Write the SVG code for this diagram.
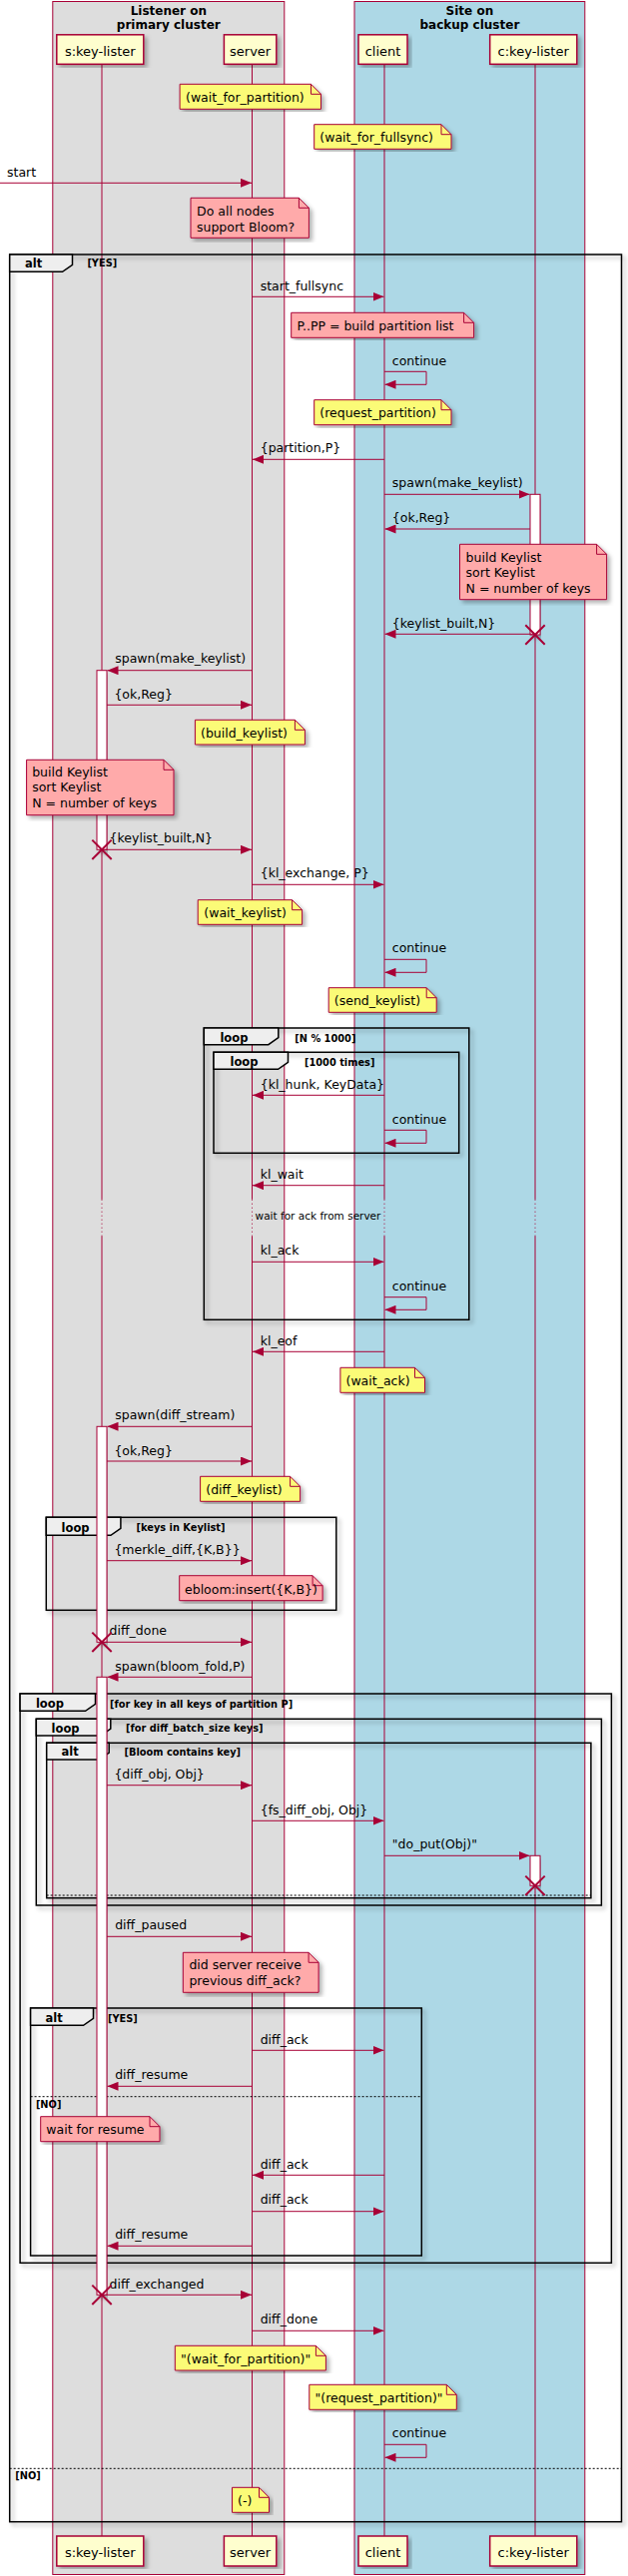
<svg xmlns="http://www.w3.org/2000/svg" width="629" height="2581" viewBox="0 0 629 2581">
<style>
text{font-family:"DejaVu Sans",sans-serif;fill:#000}
.m{font-size:12.5px}
.pt{font-size:13px;text-anchor:middle}
.bt{font-size:12px;font-weight:bold;text-anchor:middle}
.ft{font-size:11.5px;font-weight:bold}
.gd{font-size:9.8px;font-weight:bold}
.dl{font-size:10.5px;text-anchor:middle}
.ll{stroke:#A80036;stroke-width:1;fill:none}
.dot{stroke:#A80036;stroke-width:1;stroke-dasharray:1,3;fill:none}
.ar{stroke:#A80036;stroke-width:1;fill:none;marker-end:url(#ah)}
.pb{fill:#FEFECE;stroke:#A80036;stroke-width:1.5;filter:url(#sh)}
.ny{fill:#FBFB77;stroke:#A80036;stroke-width:1;filter:url(#sh)}
.np{fill:#FFAAAA;stroke:#A80036;stroke-width:1;filter:url(#sh)}
.fd{fill:none;stroke:#A80036;stroke-width:1}
.fr{fill:none;stroke:#000;stroke-width:1.5;filter:url(#sh)}
.tb{fill:#EEEEEE;stroke:#000;stroke-width:1.5}
.sep{stroke:#000;stroke-width:1;stroke-dasharray:2,2}
.ac{fill:#FFFFFF;stroke:#A80036;stroke-width:1;filter:url(#sh)}
.x{stroke:#A80036;stroke-width:2}
</style>
<defs>
<filter id="sh" x="-5%" y="-5%" width="115%" height="115%"><feDropShadow dx="3" dy="3" stdDeviation="2" flood-color="#000" flood-opacity="0.3"/></filter>
<marker id="ah" markerWidth="11" markerHeight="9" refX="11" refY="4.5" orient="auto" markerUnits="userSpaceOnUse"><path d="M0,0 L11,4.5 L0,9 Z" fill="#A80036"/></marker>
</defs>
<rect width="629" height="2581" fill="#FFFFFF"/>
<g id="box_primary">
<rect x="52.8" y="1.5" width="232" height="2578" fill="#DDDDDD" stroke="#A80036" stroke-width="1"/>
<text class="bt" x="168.8" y="14.5">Listener on</text>
<text class="bt" x="168.8" y="29">primary cluster</text>
</g>
<g id="box_backup">
<rect x="355" y="1.5" width="230.8" height="2578" fill="#ADD8E6" stroke="#A80036" stroke-width="1"/>
<text class="bt" x="470.4" y="14.5">Site on</text>
<text class="bt" x="470.4" y="29">backup cluster</text>
</g>
<g id="lifelines">
<path class="ll" d="M102,64.3 V1201.7 M102,1238.3 V2541 M252.5,64.3 V1201.7 M252.5,1238.3 V2541 M385,64.3 V1201.7 M385,1238.3 V2541 M536,64.3 V1201.7 M536,1238.3 V2541"/>
<path class="dot" d="M102,1201.7 V1238.3 M252.5,1201.7 V1238.3 M385,1201.7 V1238.3 M536,1201.7 V1238.3"/>
<text class="dl" x="318.5" y="1222.3">wait for ack from server</text>
</g>
<g id="p_skl_top"><rect class="pb" x="56.8" y="34.8" width="87" height="29.5"/><text class="pt" x="100.3" y="55.5">s:key-lister</text></g>
<g id="p_server_top"><rect class="pb" x="224.4" y="34.8" width="52.4" height="29.5"/><text class="pt" x="250.6" y="55.5">server</text></g>
<g id="p_client_top"><rect class="pb" x="359" y="34.8" width="49" height="29.5"/><text class="pt" x="383.5" y="55.5">client</text></g>
<g id="p_ckl_top"><rect class="pb" x="490.7" y="34.8" width="87.1" height="29.5"/><text class="pt" x="534.2" y="55.5">c:key-lister</text></g>
<g id="p_skl_bottom"><rect class="pb" x="56.8" y="2541" width="87" height="30"/><text class="pt" x="100.3" y="2561.5">s:key-lister</text></g>
<g id="p_server_bottom"><rect class="pb" x="224.4" y="2541" width="52.4" height="30"/><text class="pt" x="250.6" y="2561.5">server</text></g>
<g id="p_client_bottom"><rect class="pb" x="359" y="2541" width="49" height="30"/><text class="pt" x="383.5" y="2561.5">client</text></g>
<g id="p_ckl_bottom"><rect class="pb" x="490.7" y="2541" width="87.1" height="30"/><text class="pt" x="534.2" y="2561.5">c:key-lister</text></g>
<g id="frames">
<g id="f_alt_outer"><rect class="fr" x="9.7" y="255" width="612.8" height="2271.7"/><path class="tb" d="M9.7,255 H72.5 V265.3 L62.5,272.3 H9.7 Z"/><text class="ft" x="25" y="268">alt</text><text class="gd" x="87.4" y="267">[YES]</text><line class="sep" x1="9.7" y1="2473.3" x2="622.5" y2="2473.3"/><text class="gd" x="15.3" y="2484">[NO]</text></g>
<g id="f_loop_n"><rect class="fr" x="204.3" y="1030" width="265.5" height="292.3"/><path class="tb" d="M204.3,1030 H278.8 V1039.7 L268.8,1046.7 H204.3 Z"/><text class="ft" x="220.4" y="1043.5">loop</text><text class="gd" x="295.3" y="1043.5">[N % 1000]</text></g>
<g id="f_loop_1000"><rect class="fr" x="214" y="1054.3" width="245.7" height="101"/><path class="tb" d="M214,1054.3 H288.5 V1064.3 L278.5,1071.3 H214 Z"/><text class="ft" x="230.5" y="1067.8">loop</text><text class="gd" x="305" y="1067.5">[1000 times]</text></g>
<g id="f_loop_keys"><rect class="fr" x="46.3" y="1520.3" width="290.5" height="93"/><path class="tb" d="M46.3,1520.3 H120.9 V1531.3 L110.9,1538.3 H46.3 Z"/><text class="ft" x="61.6" y="1534.5">loop</text><text class="gd" x="136.6" y="1534">[keys in Keylist]</text></g>
<g id="f_loop_part"><rect class="fr" x="20.1" y="1697" width="592.3" height="570.3"/><path class="tb" d="M20.1,1697 H95.5 V1707.3 L85.5,1714.3 H20.1 Z"/><text class="ft" x="35.9" y="1711">loop</text><text class="gd" x="110" y="1710.5">[for key in all keys of partition P]</text></g>
<g id="f_loop_batch"><rect class="fr" x="36.3" y="1722.3" width="566.1" height="186.7"/><path class="tb" d="M36.3,1722.3 H110.8 V1732 L100.8,1739 H36.3 Z"/><text class="ft" x="51.6" y="1735.5">loop</text><text class="gd" x="126.1" y="1735">[for diff_batch_size keys]</text></g>
<g id="f_alt_bloom"><rect class="fr" x="46.7" y="1746.3" width="545.2" height="155.4"/><path class="tb" d="M46.7,1746.3 H109.2 V1756 L99.2,1763 H46.7 Z"/><text class="ft" x="61.6" y="1759">alt</text><text class="gd" x="124.5" y="1758.5">[Bloom contains key]</text><line class="sep" x1="46.7" y1="1899" x2="591.9" y2="1899"/></g>
<g id="f_alt_ack"><rect class="fr" x="30.6" y="2012" width="391.7" height="248"/><path class="tb" d="M30.6,2012 H93.5 V2022.3 L83.5,2029.3 H30.6 Z"/><text class="ft" x="45.5" y="2026">alt</text><text class="gd" x="108" y="2025.5">[YES]</text><line class="sep" x1="30.6" y1="2100.7" x2="422.3" y2="2100.7"/><text class="gd" x="35.9" y="2112">[NO]</text></g>
</g>
<g id="activations">
<rect class="ac" x="531" y="495.3" width="10" height="140.7"/>
<rect class="ac" x="97" y="671.7" width="10" height="179.6"/>
<rect class="ac" x="97" y="1429.3" width="10" height="216"/>
<rect class="ac" x="97" y="1680.3" width="10" height="619"/>
<rect class="ac" x="531" y="1859.3" width="10" height="30"/>
</g>
<g id="notes">
<g id="n1"><path class="ny" d="M180.1,84.3 H311.5 L321.5,94.3 V109.3 H180.1 Z"/><path class="fd" d="M311.5,84.3 V94.3 H321.5"/><text class="m" x="186" y="101.7">(wait_for_partition)</text></g>
<g id="n2"><path class="ny" d="M314.7,124.7 H442 L452,134.7 V149.3 H314.7 Z"/><path class="fd" d="M442,124.7 V134.7 H452"/><text class="m" x="320.3" y="142">(wait_for_fullsync)</text></g>
<g id="n3"><path class="np" d="M191,198.3 H299.4 L309.4,208.3 V238.3 H191 Z"/><path class="fd" d="M299.4,198.3 V208.3 H309.4"/><text class="m" x="197" y="215.5">Do all nodes</text><text class="m" x="197" y="231.5">support Bloom?</text></g>
<g id="n4"><path class="np" d="M291.7,313.3 H464.6 L474.6,323.3 V338.3 H291.7 Z"/><path class="fd" d="M464.6,313.3 V323.3 H474.6"/><text class="m" x="297.4" y="330.5">P..PP = build partition list</text></g>
<g id="n5"><path class="ny" d="M314.7,400.7 H442 L452,410.7 V425.7 H314.7 Z"/><path class="fd" d="M442,400.7 V410.7 H452"/><text class="m" x="320.3" y="418.3">(request_partition)</text></g>
<g id="n6"><path class="np" d="M460.5,545.3 H597.6 L607.6,555.3 V600.7 H460.5 Z"/><path class="fd" d="M597.6,545.3 V555.3 H607.6"/><text class="m" x="466.6" y="562.7">build Keylist</text><text class="m" x="466.6" y="578.3">sort Keylist</text><text class="m" x="466.6" y="594.3">N = number of keys</text></g>
<g id="n7"><path class="ny" d="M195.4,721.3 H295.4 L305.4,731.3 V746 H195.4 Z"/><path class="fd" d="M295.4,721.3 V731.3 H305.4"/><text class="m" x="201" y="739">(build_keylist)</text></g>
<g id="n8"><path class="np" d="M26.6,761.3 H164 L174,771.3 V816.7 H26.6 Z"/><path class="fd" d="M164,761.3 V771.3 H174"/><text class="m" x="32.2" y="777.7">build Keylist</text><text class="m" x="32.2" y="793.3">sort Keylist</text><text class="m" x="32.2" y="809.3">N = number of keys</text></g>
<g id="n9"><path class="ny" d="M198.2,901.7 H292.6 L302.6,911.7 V926.3 H198.2 Z"/><path class="fd" d="M292.6,901.7 V911.7 H302.6"/><text class="m" x="204.3" y="919.3">(wait_keylist)</text></g>
<g id="n10"><path class="ny" d="M329.2,989.7 H427.2 L437.2,999.7 V1014.3 H329.2 Z"/><path class="fd" d="M427.2,989.7 V999.7 H437.2"/><text class="m" x="334.8" y="1006.7">(send_keylist)</text></g>
<g id="n11"><path class="ny" d="M340.9,1370.3 H415.5 L425.5,1380.3 V1395.3 H340.9 Z"/><path class="fd" d="M415.5,1370.3 V1380.3 H425.5"/><text class="m" x="346.5" y="1388.3">(wait_ack)</text></g>
<g id="n12"><path class="ny" d="M200.6,1479.3 H290.6 L300.6,1489.3 V1504.3 H200.6 Z"/><path class="fd" d="M290.6,1479.3 V1489.3 H300.6"/><text class="m" x="206.3" y="1496.7">(diff_keylist)</text></g>
<g id="n13"><path class="np" d="M179.7,1578.7 H313.1 L323.1,1588.7 V1603.7 H179.7 Z"/><path class="fd" d="M313.1,1578.7 V1588.7 H323.1"/><text class="m" x="185" y="1596.7">ebloom:insert({K,B})</text></g>
<g id="n14"><path class="np" d="M183.3,1956.3 H309.1 L319.1,1966.3 V1996.3 H183.3 Z"/><path class="fd" d="M309.1,1956.3 V1966.3 H319.1"/><text class="m" x="189.4" y="1973.3">did server receive</text><text class="m" x="189.4" y="1988.8">previous diff_ack?</text></g>
<g id="n15"><path class="np" d="M40.7,2120.7 H150 L160,2130.7 V2145.7 H40.7 Z"/><path class="fd" d="M150,2120.7 V2130.7 H160"/><text class="m" x="46.3" y="2138.3">wait for resume</text></g>
<g id="n16"><path class="ny" d="M175.3,2350.3 H316.4 L326.4,2360.3 V2375 H175.3 Z"/><path class="fd" d="M316.4,2350.3 V2360.3 H326.4"/><text class="m" x="181" y="2368">"(wait_for_partition)"</text></g>
<g id="n17"><path class="ny" d="M309.8,2389.3 H447.3 L457.3,2399.3 V2414.3 H309.8 Z"/><path class="fd" d="M447.3,2389.3 V2399.3 H457.3"/><text class="m" x="315.5" y="2407.3">"(request_partition)"</text></g>
<g id="n18"><path class="ny" d="M232.5,2492.3 H259.5 L269.5,2502.3 V2517.3 H232.5 Z"/><path class="fd" d="M259.5,2492.3 V2502.3 H269.5"/><text class="m" x="238" y="2510">(-)</text></g>
</g>
<g id="connectors">
<line class="ar" x1="0" y1="183.3" x2="252" y2="183.3"/><text class="m" x="7" y="177">start</text>
<line class="ar" x1="252.5" y1="297.3" x2="384.5" y2="297.3"/><text class="m" x="260.7" y="291">start_fullsync</text>
<path class="ar" d="M385,372.3 H427 V385.3 H385.5"/><text class="m" x="392.8" y="365.7">continue</text>
<line class="ar" x1="385" y1="460.3" x2="253" y2="460.3"/><text class="m" x="260.7" y="453.3">{partition,P}</text>
<line class="ar" x1="385" y1="495.3" x2="530.5" y2="495.3"/><text class="m" x="392.8" y="488.3">spawn(make_keylist)</text>
<line class="ar" x1="531" y1="530" x2="385.5" y2="530"/><text class="m" x="392.8" y="523.3">{ok,Reg}</text>
<line class="ar" x1="536" y1="635.3" x2="385.5" y2="635.3"/><text class="m" x="392.8" y="629">{keylist_built,N}</text>
<line class="ar" x1="252.5" y1="671.7" x2="107.5" y2="671.7"/><text class="m" x="115.2" y="664">spawn(make_keylist)</text>
<line class="ar" x1="107" y1="706.3" x2="252" y2="706.3"/><text class="m" x="114.4" y="700">{ok,Reg}</text>
<line class="ar" x1="102" y1="851.3" x2="252" y2="851.3"/><text class="m" x="109.6" y="844">{keylist_built,N}</text>
<line class="ar" x1="252.5" y1="886.3" x2="384.5" y2="886.3"/><text class="m" x="260.7" y="879.3">{kl_exchange, P}</text>
<path class="ar" d="M385,961.3 H427 V974.3 H385.5"/><text class="m" x="392.8" y="954.3">continue</text>
<line class="ar" x1="385" y1="1097.3" x2="253" y2="1097.3"/><text class="m" x="260.7" y="1090.7">{kl_hunk, KeyData}</text>
<path class="ar" d="M385,1132.3 H427 V1145.3 H385.5"/><text class="m" x="392.8" y="1125.7">continue</text>
<line class="ar" x1="385" y1="1187.7" x2="253" y2="1187.7"/><text class="m" x="260.7" y="1181">kl_wait</text>
<line class="ar" x1="252.5" y1="1264.3" x2="384.5" y2="1264.3"/><text class="m" x="260.7" y="1257.3">kl_ack</text>
<path class="ar" d="M385,1299.7 H427 V1312.3 H385.5"/><text class="m" x="392.8" y="1293">continue</text>
<line class="ar" x1="385" y1="1354.3" x2="253" y2="1354.3"/><text class="m" x="260.7" y="1348.3">kl_eof</text>
<line class="ar" x1="252.5" y1="1429.3" x2="107.5" y2="1429.3"/><text class="m" x="115.2" y="1421.7">spawn(diff_stream)</text>
<line class="ar" x1="107" y1="1464" x2="252" y2="1464"/><text class="m" x="114.4" y="1457.7">{ok,Reg}</text>
<line class="ar" x1="107" y1="1563.7" x2="252" y2="1563.7"/><text class="m" x="114.4" y="1557.3">{merkle_diff,{K,B}}</text>
<line class="ar" x1="102" y1="1645.3" x2="252" y2="1645.3"/><text class="m" x="109.6" y="1638.3">diff_done</text>
<line class="ar" x1="252.5" y1="1680.3" x2="107.5" y2="1680.3"/><text class="m" x="115.2" y="1674">spawn(bloom_fold,P)</text>
<line class="ar" x1="107" y1="1788.7" x2="252" y2="1788.7"/><text class="m" x="114.4" y="1782.3">{diff_obj, Obj}</text>
<line class="ar" x1="252.5" y1="1824.3" x2="384.5" y2="1824.3"/><text class="m" x="260.7" y="1817.7">{fs_diff_obj, Obj}</text>
<line class="ar" x1="385" y1="1859.3" x2="530.5" y2="1859.3"/><text class="m" x="392.8" y="1852.3">"do_put(Obj)"</text>
<line class="ar" x1="107" y1="1940.3" x2="252" y2="1940.3"/><text class="m" x="115.2" y="1933.3">diff_paused</text>
<line class="ar" x1="252.5" y1="2054.3" x2="384.5" y2="2054.3"/><text class="m" x="260.7" y="2048.3">diff_ack</text>
<line class="ar" x1="252.5" y1="2090.3" x2="107.5" y2="2090.3"/><text class="m" x="115.2" y="2083.3">diff_resume</text>
<line class="ar" x1="385" y1="2179.3" x2="253" y2="2179.3"/><text class="m" x="260.7" y="2173.3">diff_ack</text>
<line class="ar" x1="252.5" y1="2215.7" x2="384.5" y2="2215.7"/><text class="m" x="260.7" y="2208.3">diff_ack</text>
<line class="ar" x1="252.5" y1="2250.3" x2="107.5" y2="2250.3"/><text class="m" x="115.2" y="2243.3">diff_resume</text>
<line class="ar" x1="102" y1="2299.3" x2="252" y2="2299.3"/><text class="m" x="109.6" y="2292.7">diff_exchanged</text>
<line class="ar" x1="252.5" y1="2335.3" x2="384.5" y2="2335.3"/><text class="m" x="260.7" y="2328.3">diff_done</text>
<path class="ar" d="M385,2449.3 H427 V2462.3 H385.5"/><text class="m" x="392.8" y="2442.3">continue</text>
</g>
<g id="destroys">
<path class="x" d="M526.3,626.3 L545.7,645.7 M545.7,626.3 L526.3,645.7"/>
<path class="x" d="M92.3,841.6 L111.7,861 M111.7,841.6 L92.3,861"/>
<path class="x" d="M92.3,1635.6 L111.7,1655 M111.7,1635.6 L92.3,1655"/>
<path class="x" d="M526.3,1879.6 L545.7,1899 M545.7,1879.6 L526.3,1899"/>
<path class="x" d="M92.3,2289.6 L111.7,2309 M111.7,2289.6 L92.3,2309"/>
</g>
</svg>
